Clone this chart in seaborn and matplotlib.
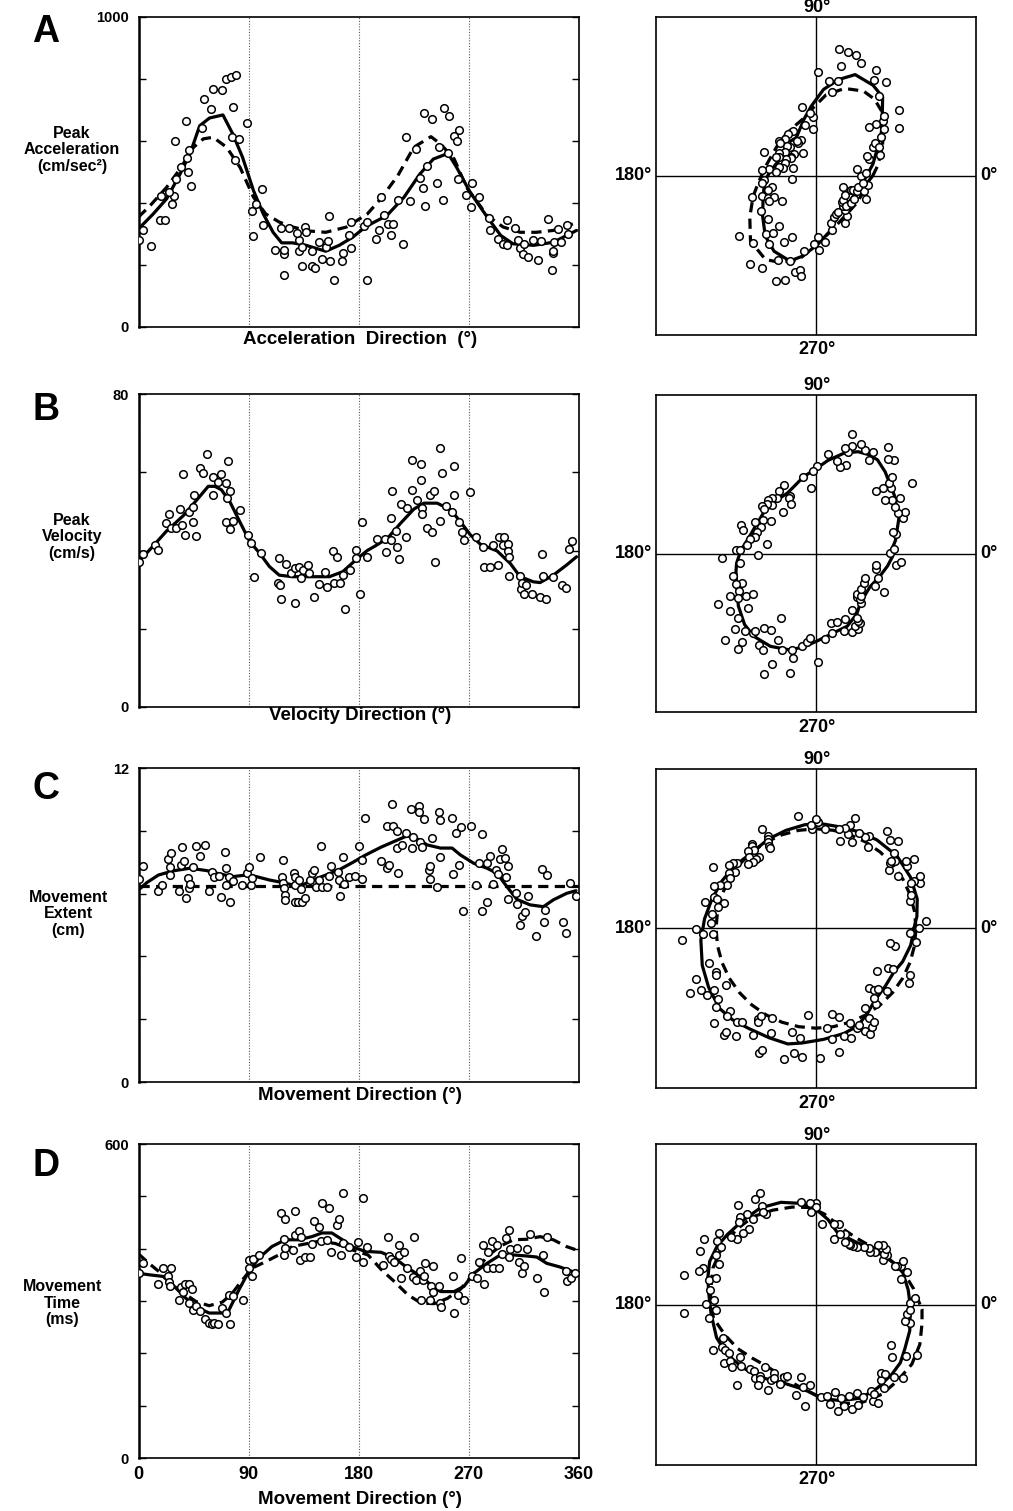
import numpy as np
import pandas as pd
import matplotlib
matplotlib.use("Agg")
import matplotlib.pyplot as plt
import seaborn as sns

sns.set_theme(style="white")
plt.rcParams['font.family'] = ['Liberation Sans', 'DejaVu Sans']
plt.rcParams['font.weight'] = 'bold'
plt.rcParams['text.color'] = 'black'
plt.rcParams['axes.labelcolor'] = 'black'
plt.rcParams['xtick.color'] = 'black'
plt.rcParams['ytick.color'] = 'black'

# ---------------- data (direction in degrees, value) ----------------
A_pts = [(0,279),(4,314),(10,260),(17.6,346),(22,343),(18,422),(27,397),(29,422),(25,436),(30,600),(31,477),(34.7,514),(38.8,665),(40,543),(40.7,498),(41.5,570),(43,453),(52,641),(53.5,734),(58.9,702),(60.5,767),(68.6,764),(71.9,798),(75.4,804),(80,811),(77.3,709),(76.8,611),(82,605),(79.2,539),(89,657),(93,372),(93.3,294),(95.7,397),(101,445),(101.7,328),(111.7,247),(118.8,234),(118.8,249),(116.6,319),(118.8,166),(123.4,319),(131,244),(131.5,281),(129.4,302),(136,321),(134,259),(137,305),(133.7,195),(141.8,198),(144.6,190),(141.8,244),(147.8,275),(150,220),(153,257),(155,277),(155.4,356),(156.8,212),(160,152),(166,214),(166.8,238),(172,295),(174,254),(174,339),(184.4,324),(187,338),(187,150),(194,284),(196.6,311),(200.7,362),(204.2,332),(206.1,295),(208.3,332),(198.5,420),(212.4,409),(216.4,266),(218.3,613),(221.9,407),(227,573),(229.7,480),(232.7,447),(233.8,391),(233.3,688),(235.4,520),(239.5,670),(244.1,463),(245.5,579),(249,410),(249.5,705),(253.6,681),(252.8,559),(257.7,616),(260.4,598),(261.7,635),(260.9,477),(268,425),(271.8,386),(272.6,463),(278,418),(286.1,352),(287,311),(293.5,284),(297.5,268),(301,346),(301,263),(307.8,319),(310,279),(311.9,254),(314.6,234),(318.7,225),(315.2,268),(322,279),(326.3,217),(329,277),(335,348),(338.2,182),(338.5,238),(338.5,246),(339.6,273),(343.1,316),(345,273),(349.9,330),(351.2,300)]
A_solid = [(0,316),(12,364),(23,413),(34,493),(42,557),(50,648),(58,673),(69,683),(77,622),(85,547),(94,439),(102,364),(110,305),(117,271),(126,271),(137,263),(153,244),(164,263),(175,289),(186,324),(203,359),(217,418),(230,493),(241,541),(253,559),(260,514),(271,434),(285,354),(296,295),(306,268),(323,263),(339,273),(358,311)]
A_dashed = [(0,354),(9.5,391),(23,450),(34,509),(45,579),(53,606),(61,611),(72,579),(83,514),(94,418),(104,364),(115,338),(126,322),(140,309),(153,305),(170,322),(187,364),(198,413),(212,488),(225,579),(239,613),(247,589),(258,541),(268,450),(285,359),(298,322),(312,305),(325,305),(339,311),(355,332)]

B_pts = [(0.5,37.0),(3.3,39.1),(13.6,41.4),(15.7,40.1),(22.5,47.0),(25.2,49.3),(26.6,45.7),(30.6,45.7),(33.9,50.6),(35.3,46.4),(36.6,59.5),(38,44.0),(41.5,49.9),(44.2,51.2),(44.8,47.2),(45.6,54.2),(46.6,43.7),(50.2,61.2),(52.9,59.8),(56.1,64.7),(60.5,54.2),(61,58.7),(65.1,57.6),(67.8,59.6),(71.9,57.2),(72.7,53.4),(73.2,62.8),(74.6,55.2),(71.3,47.2),(74.6,45.5),(77.3,47.6),(83.3,50.4),(89.5,44.0),(92.2,41.8),(94.4,33.3),(99.8,39.3),(114.5,38.0),(113.9,31.8),(116,31.3),(116.6,27.7),(120.7,36.5),(124.8,34.2),(128.3,35.4),(128.3,26.7),(131.5,35.9),(132.4,32.9),(134.8,35.0),(138.3,36.3),(139.1,34.2),(143.7,28.0),(147.3,31.4),(152.4,34.6),(154,30.6),(158.7,40.0),(160,31.6),(162,38.3),(164.6,31.6),(167.3,33.7),(168.7,25.0),(172.8,35.0),(177.6,40.1),(177.6,38.2),(181.2,28.9),(182.5,47.2),(187,38.4),(195.3,42.9),(202,39.7),(201.3,42.9),(206.1,42.7),(206.7,48.2),(207.5,55.1),(210.2,45.0),(211.6,41.0),(212.9,37.8),(214.3,51.8),(218.9,43.5),(219.7,50.8),(223.2,55.5),(223.8,63.2),(227.8,52.9),(230.5,57.9),(231.1,62.2),(231.9,50.8),(231.9,49.4),(235.4,45.7),(238.1,54.2),(240,44.8),(241.4,55.2),(242,37.1),(246.8,47.6),(246.8,66.2),(248.2,59.9),(250.9,51.5),(256.3,49.9),(257.7,61.5),(257.7,54.2),(261.7,47.4),(264.4,44.7),(265.8,42.7),(271.2,54.9),(276.1,43.5),(281.5,41.0),(282,35.7),(287,35.9),(289.7,41.4),(293.5,36.3),(294.8,43.5),(298.9,43.4),(297.8,41.4),(301.9,41.6),(301.6,40.0),(302.4,38.4),(302.4,33.6),(311.9,33.6),(312.7,30.1),(313.3,31.8),(315.4,28.9),(316.5,31.3),(321.4,29.0),(328.2,28.0),(330.1,39.0),(330.9,33.6),(333.1,27.7),(338.5,33.3),(345.8,31.2),(349.1,30.3),(352,40.4),(354.5,42.5)]
B_solid = [(0,37.1),(9.5,40.3),(23,45.0),(36.6,48.9),(50,53.8),(57,56.4),(62.4,56.4),(67.8,55.5),(74.6,52.5),(82.7,47.4),(90.9,42.3),(99,39.3),(107,35.9),(115,33.7),(126,33.3),(142,33.3),(156,33.3),(167,34.6),(177.6,37.6),(187,40.0),(192.6,41.0),(203.4,43.1),(214.3,47.0),(225.1,50.6),(233.3,52.1),(244.1,52.1),(255,50.4),(263,47.4),(271.2,44.0),(279.4,41.6),(293,39.9),(303.8,36.7),(311.9,33.3),(322.7,32.0),(328.2,31.8),(339,33.7),(349.9,36.3),(358,38.4)]

C_pts = [(0.5,7.76),(4,8.27),(16.3,7.31),(19.5,7.53),(23.9,8.51),(25.8,8.20),(26.6,8.74),(25.8,7.91),(33.1,7.30),(34.7,8.30),(35.3,9.0),(37.2,8.45),(38.8,7.05),(40.7,7.79),(41.5,7.40),(42,7.57),(44.2,8.20),(46.9,9.03),(50.2,8.62),(54.2,9.04),(57.5,7.31),(60.2,8.04),(61.8,7.83),(65.6,7.88),(67.8,7.06),(70.5,8.78),(71.3,7.53),(71.9,8.17),(74,7.85),(74.6,6.86),(77.3,7.70),(84.9,7.51),(89,8.00),(90,8.21),(92.2,7.51),(93,7.79),(99,8.58),(117.2,7.85),(118,7.60),(118.5,8.49),(118.8,7.40),(119.4,7.15),(119.4,6.96),(127,8.0),(127.5,7.85),(128.3,7.53),(128.3,6.89),(130.7,6.89),(131,7.72),(132.9,7.37),(133.7,6.89),(136.4,7.02),(140.2,7.72),(141.6,7.98),(143.7,8.11),(145.1,7.44),(147.3,7.72),(149.2,9.03),(149.7,7.47),(154,7.44),(155.4,7.88),(157.3,8.26),(162.7,8.04),(163.5,7.72),(164.6,7.12),(166.8,8.58),(167.6,7.56),(172.2,7.85),(177.1,7.88),(180.4,9.03),(183,7.76),(183,8.49),(185,10.09),(198,8.43),(202.9,9.79),(203.4,8.17),(204.8,8.30),(207,10.62),(208,9.79),(211,8.94),(211.6,9.60),(212.4,8.00),(215.6,9.06),(218.3,9.51),(223,10.43),(223.8,8.94),(224.6,9.36),(229.2,10.56),(229.2,10.31),(230,9.19),(231.9,8.97),(233.3,10.05),(237.3,8.11),(238.1,8.26),(238.1,7.75),(239.5,9.32),(244.1,7.47),(245.5,10.30),(246.3,10.02),(246.8,8.59),(256.3,10.09),(257.1,7.95),(259.8,9.51),(261.7,8.30),(263.6,9.73),(265,6.55),(271.8,9.77),(276.1,7.53),(278,8.36),(280.7,9.49),(280.7,6.55),(284.8,8.36),(284.8,6.86),(287.5,8.62),(289.7,7.57),(292.4,8.11),(293.7,7.95),(295.6,8.51),(297,8.90),(299.7,8.55),(300.5,7.83),(301.9,8.26),(301.6,6.98),(308.4,7.21),(309.7,6.80),(311.9,6.0),(313.3,6.34),(316,6.51),(318.7,7.12),(324.6,5.58),(329.5,8.13),(331.4,6.13),(332.2,6.57),(333.6,7.91),(347.2,6.10),(349.1,5.68),(352.6,7.60),(357.5,7.09)]
C_solid = [(0,7.34),(6.8,7.62),(16.3,7.91),(28.5,8.07),(42,8.17),(55.6,8.08),(66.5,7.95),(77.3,7.85),(88,7.91),(96.3,7.85),(107,7.72),(118,7.62),(131.5,7.47),(142.4,7.72),(153.2,7.91),(164,8.11),(175,8.39),(185.8,8.68),(198,8.97),(208.8,9.19),(219.7,9.41),(227.8,9.29),(236,9.06),(246.8,8.94),(256.3,8.94),(263,8.68),(273.9,8.36),(284.8,8.17),(292.9,7.98),(301,7.47),(309.2,6.98),(320,6.77),(330.9,6.70),(339,6.96),(349.9,7.21),(357.5,7.31)]
C_dashed_level = 7.5
C_dashed = [(d, C_dashed_level) for d in range(0, 361, 10)]

D_pts = [(0.8,353),(3.5,372),(16.3,333),(19.8,363),(24.4,348),(26.6,363),(25.2,337),(26,328),(33.3,302),(34.7,326),(36.6,318),(38.2,333),(41.5,333),(43.6,323),(41.5,296),(44.2,283),(46.9,291),(50.4,281),(54.5,266),(57.7,258),(60.4,256),(61.8,258),(65.3,256),(68,286),(71.3,277),(74,312),(74.5,256),(77.2,309),(85.4,302),(90.2,379),(93.5,380),(90.2,363),(93,348),(98.4,388),(116.8,468),(120,457),(118.7,419),(119.2,388),(120,401),(126.3,398),(128.2,472),(127.6,426),(130.9,433),(133,422),(131.7,379),(135.8,384),(140.4,384),(141.7,408),(143.6,452),(147.2,441),(149,414),(149.9,487),(155.3,477),(153.9,417),(157.5,393),(162,445),(164,457),(167,410),(165.3,388),(167.5,507),(172.1,403),(177.5,384),(179.7,412),(183.7,496),(183.2,374),(187.1,403),(199.8,369),(203.8,423),(204.6,386),(206.5,380),(209.2,374),(212.5,407),(213.3,388),(214.6,344),(216.8,393),(219.2,363),(225.5,423),(224.1,346),(226.8,340),(230.3,358),(232.2,340),(233,347),(230.9,302),(234.4,372),(238.4,302),(239,328),(240.3,367),(240.3,317),(245.7,328),(246.5,297),(247.6,288),(257.4,348),(257.9,277),(261.1,312),(263.8,383),(266,302),(272.8,348),(276.8,344),(278.2,374),(281.7,407),(282.2,333),(284.9,363),(285.5,393),(289,414),(289.8,363),(293,407),(294.9,363),(297.1,390),(300.6,420),(302.5,435),(302.5,385),(303.3,399),(309.2,401),(310.6,374),(313.3,353),(315.2,367),(317.4,399),(320,428),(325.5,344),(330.3,388),(331.7,318),(333.6,423),(349,358),(349.8,338),(353.8,344),(356.5,353)]
D_solid = [(0,353),(9,350),(20,347),(28,331),(38.8,305),(49.6,286),(57.7,277),(68.6,277),(74,283),(82,321),(90,356),(98.4,382),(109,404),(120,417),(130.9,417),(141.7,423),(149.9,430),(158,430),(166,418),(174.3,404),(185,395),(198.4,393),(209.2,382),(220,363),(230.9,347),(241.7,325),(247,318),(257.9,318),(266,328),(274.1,353),(284.9,372),(295.7,388),(306.5,388),(317.4,386),(325.5,384),(333.6,372),(344.4,365),(357.3,354)]
D_dashed = [(0,390),(9,371),(20,350),(33.3,321),(47,299),(57.7,291),(68.6,298),(76.7,315),(84.8,340),(93,363),(103.8,375),(114.6,388),(125.5,404),(136.3,409),(147.2,414),(160.7,410),(174.3,398),(187.6,388),(198.4,360),(209.2,337),(220,312),(230.9,296),(241.7,295),(252.5,305),(263.3,323),(274.1,353),(284.9,385),(295.7,405),(306.5,417),(317.4,418),(328.2,423),(339,417),(349.8,404),(357.3,398)]

A_yticks = [0, 200, 400, 600, 800, 1000]
B_yticks = [0, 20, 40, 60, 80]
C_yticks = [0, 2.4, 4.8, 7.2, 9.6, 12]
D_yticks = [0, 100, 200, 300, 400, 500, 600]
x_ticks = [0, 90, 180, 270, 360]
x_ticklabels = ['0', '90', '180', '270', '360']

# ---------------- layout helpers ----------------
W, H = 1013, 1511
fig = plt.figure(figsize=(W / 100, H / 100), dpi=100)


def rect(x0, y0, x1, y1):
    return [x0 / W, 1 - y1 / H, (x1 - x0) / W, (y1 - y0) / H]


def ftext(x, y, s, **kw):
    fig.text(x / W, 1 - y / H, s, fontweight='bold', color='black', **kw)


def frame(df_pts):
    return pd.DataFrame(df_pts, columns=['dir', 'val'])


def to_xy(df, close=False):
    d = df.copy()
    if close:
        d = pd.concat([d, d.iloc[[0]]], ignore_index=True)
    rad = np.deg2rad(d['dir'].to_numpy())
    d['x'] = d['val'].to_numpy() * np.cos(rad)
    d['y'] = d['val'].to_numpy() * np.sin(rad)
    return d


LW = 2.3
DASH = (0, (3.2, 2.0))

panels = [
    dict(letter='A', pts=A_pts, solid=A_solid, dashed=A_dashed, ymax=1000, yticks=A_yticks,
         ylabel='Peak\nAcceleration\n(cm/sec²)', ylab_xy=(72, 150),
         xlabel='Acceleration  Direction  (°)', xlab_y=340,
         L=(16.5, 327), R=(17, 335), letter_y=32),
    dict(letter='B', pts=B_pts, solid=B_solid, dashed=None, ymax=80, yticks=B_yticks,
         ylabel='Peak\nVelocity\n(cm/s)', ylab_xy=(72, 537),
         xlabel='Velocity Direction (°)', xlab_y=716,
         L=(394, 707), R=(395, 712), letter_y=410),
    dict(letter='C', pts=C_pts, solid=C_solid, dashed=C_dashed, ymax=12, yticks=C_yticks,
         ylabel='Movement\nExtent\n(cm)', ylab_xy=(68, 914),
         xlabel='Movement Direction (°)', xlab_y=1095,
         L=(768, 1082), R=(769, 1088), letter_y=789),
    dict(letter='D', pts=D_pts, solid=D_solid, dashed=D_dashed, ymax=600, yticks=D_yticks,
         ylabel='Movement\nTime\n(ms)', ylab_xy=(62, 1303),
         xlabel='Movement Direction (°)', xlab_y=1500,
         L=(1144, 1458), R=(1144, 1465), letter_y=1166),
]

for i, p in enumerate(panels):
    pts = frame(p['pts'])
    sol = frame(p['solid'])
    das = frame(p['dashed']) if p['dashed'] is not None else None
    m = p['ymax']

    # ----- Cartesian panel -----
    ax = fig.add_axes(rect(138.5, p['L'][0], 579, p['L'][1]))
    sns.lineplot(data=sol, x='dir', y='val', ax=ax, color='black', lw=LW,
                 sort=False, estimator=None, zorder=2)
    if das is not None:
        sns.lineplot(data=das, x='dir', y='val', ax=ax, color='black', lw=LW,
                     linestyle=DASH, sort=False, estimator=None, zorder=2)
    sns.scatterplot(data=pts, x='dir', y='val', ax=ax, s=30, color='white',
                    edgecolor='black', linewidth=1.1, zorder=3)
    ax.set_xlim(0, 360)
    ax.set_ylim(0, m)
    ax.set_xticks(x_ticks)
    ax.grid(axis='x', linestyle=(0, (1, 1.5)), color='0.35', lw=0.8)
    ax.grid(axis='y', visible=False)
    ax.set_yticks(p['yticks'])
    labs = [''] * len(p['yticks'])
    labs[0] = '0'
    labs[-1] = f"{m:g}"
    ax.set_yticklabels(labs, fontsize=10.5, fontweight='bold', color='black')
    ax.tick_params(axis='y', direction='in', left=True, right=True, length=5,
                   width=1, color='black', pad=7)
    if p['letter'] == 'D':
        ax.set_xticklabels(x_ticklabels, fontsize=13, fontweight='bold', color='black')
        ax.tick_params(axis='x', length=0, pad=6)
    else:
        ax.set_xticklabels([])
        ax.tick_params(axis='x', length=0)
    ax.set_xlabel('')
    ax.set_ylabel('')
    for name, sp in ax.spines.items():
        sp.set_color('black')
        sp.set_linewidth(1.8 if name == 'left' else 1.2)
        sp.set_visible(True)

    ftext(46, p['letter_y'], p['letter'], fontsize=27, ha='center', va='center')
    ftext(p['ylab_xy'][0], p['ylab_xy'][1], p['ylabel'], fontsize=11.5, ha='center',
          va='center', linespacing=1.12, multialignment='center')
    ftext(360, p['xlab_y'], p['xlabel'], fontsize=13.5, ha='center', va='center')

    # ----- polar-style panel -----
    top, bot = p['R']
    axp = fig.add_axes(rect(656, top, 976, bot))
    axp.axhline(0, color='black', lw=1.0, zorder=1)
    axp.axvline(0, color='black', lw=1.0, zorder=1)
    psol = to_xy(sol, close=True)
    sns.lineplot(data=psol, x='x', y='y', ax=axp, color='black', lw=LW,
                 sort=False, estimator=None, zorder=2)
    if das is not None:
        pdas = to_xy(das, close=True)
        sns.lineplot(data=pdas, x='x', y='y', ax=axp, color='black', lw=LW,
                     linestyle=DASH, sort=False, estimator=None, zorder=2)
    ppts = to_xy(pts)
    sns.scatterplot(data=ppts, x='x', y='y', ax=axp, s=30, color='white',
                    edgecolor='black', linewidth=1.1, zorder=3)
    axp.set_xlim(-m, m)
    axp.set_ylim(-m, m)
    axp.set_xticks([])
    axp.set_yticks([])
    axp.set_xlabel('')
    axp.set_ylabel('')
    axp.grid(False)
    for sp in axp.spines.values():
        sp.set_color('black')
        sp.set_linewidth(1.2)
        sp.set_visible(True)

    cy = (top + bot) / 2
    ftext(817, top - 9, '90°', fontsize=13, ha='center', va='center')
    ftext(817, bot + 15, '270°', fontsize=13, ha='center', va='center')
    ftext(652, cy, '180°', fontsize=13, ha='right', va='center')
    ftext(980, cy, '0°', fontsize=13, ha='left', va='center')

fig.savefig('out.png', dpi=100, facecolor='white')
